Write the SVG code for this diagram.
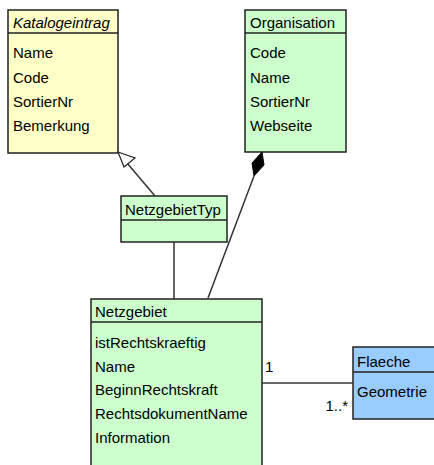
<svg xmlns="http://www.w3.org/2000/svg" width="434" height="465" viewBox="0 0 434 465">
<style>
text{font-family:"Liberation Sans",Arial,sans-serif;font-size:15px;fill:#000}
.box{stroke:#222;stroke-width:1.5}
.y{fill:#ffffc8}
.g{fill:#ccffcc}
.b{fill:#99ccff}
.ln{stroke:#333;stroke-width:1.5;fill:none}
</style>
<rect width="434" height="465" fill="#fff"/>
<g id="Katalogeintrag">
<rect class="box y" x="8" y="10" width="110" height="143"/>
<line class="box" x1="8" y1="33" x2="118" y2="33"/>
<text x="13" y="28" font-style="italic">Katalogeintrag</text>
<text x="13" y="58">Name</text>
<text x="13" y="83">Code</text>
<text x="13" y="107">SortierNr</text>
<text x="13" y="131">Bemerkung</text>
</g>
<g id="Organisation">
<rect class="box g" x="245" y="10" width="101" height="142"/>
<line class="box" x1="245" y1="33" x2="346" y2="33"/>
<text x="250" y="28">Organisation</text>
<text x="250" y="58">Code</text>
<text x="250" y="83">Name</text>
<text x="250" y="107">SortierNr</text>
<text x="250" y="131">Webseite</text>
</g>
<g id="NetzgebietTyp">
<rect class="box g" x="121" y="196" width="106" height="46"/>
<line class="box" x1="121" y1="220" x2="227" y2="220"/>
<text x="125" y="215">NetzgebietTyp</text>
</g>
<g id="Netzgebiet">
<rect class="box g" x="91" y="299" width="171" height="175"/>
<line class="box" x1="91" y1="322" x2="262" y2="322"/>
<text x="95" y="317">Netzgebiet</text>
<text x="95" y="348">istRechtskraeftig</text>
<text x="95" y="372">Name</text>
<text x="95" y="395">BeginnRechtskraft</text>
<text x="95" y="419">RechtsdokumentName</text>
<text x="95" y="443">Information</text>
</g>
<g id="Flaeche">
<rect class="box b" x="353" y="347" width="90" height="72"/>
<line class="box" x1="353" y1="372" x2="443" y2="372"/>
<text x="357" y="367">Flaeche</text>
<text x="357" y="397">Geometrie</text>
</g>
<g id="connectors">
<line class="ln" x1="155" y1="196" x2="127" y2="163"/>
<polygon points="118,152 135,158 124,167" fill="#fff" stroke="#222" stroke-width="1.2"/>
<line class="ln" x1="174" y1="242" x2="174" y2="299"/>
<line class="ln" x1="208" y1="298" x2="254" y2="176"/>
<polygon points="262,152 264,165 254,176 252,163" fill="#000" stroke="#000" stroke-width="1"/>
<line class="ln" x1="262" y1="383" x2="353" y2="383"/>
<text x="265" y="372">1</text>
<text x="348" y="411" text-anchor="end">1..*</text>
</g>
</svg>
